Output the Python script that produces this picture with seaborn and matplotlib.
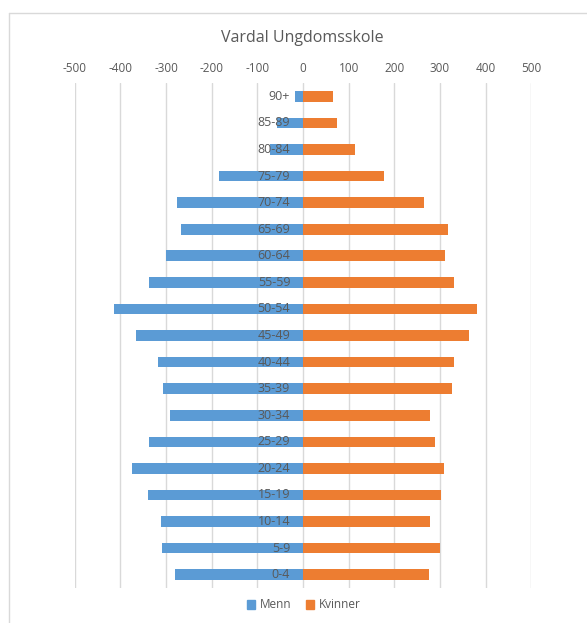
import pandas as pd
import matplotlib.pyplot as plt
import seaborn as sns
from matplotlib.patches import Rectangle

# age groups, top of the pyramid first
ages = ['90+', '85-89', '80-84', '75-79', '70-74', '65-69', '60-64', '55-59',
        '50-54', '45-49', '40-44', '35-39', '30-34', '25-29', '20-24',
        '15-19', '10-14', '5-9', '0-4']
menn = [-17, -56, -73, -183, -277, -267, -299, -337, -414, -366, -318,
        -306, -292, -338, -374, -340, -311, -309, -281]
kvinner = [66, 74, 113, 177, 266, 317, 312, 331, 382, 363, 331, 326,
           278, 288, 309, 303, 278, 301, 275]
xticks = [-500, -400, -300, -200, -100, 0, 100, 200, 300, 400, 500]

df = pd.DataFrame({
    'age': ages * 2,
    'value': menn + kvinner,
    'sex': ['Menn'] * len(ages) + ['Kvinner'] * len(ages),
})

sns.set_style('white')
plt.rcParams['font.family'] = ['Open Sans', 'DejaVu Sans']
plt.rcParams['axes.unicode_minus'] = False
grey = '#595959'

fig = plt.figure(figsize=(5.87, 6.23), dpi=100)
ax = fig.add_axes([74.7 / 587, 1 - 588 / 623, (531.3 - 74.7) / 587, (588 - 83) / 623])

sns.barplot(data=df, x='value', y='age', hue='sex', order=ages,
            palette={'Menn': '#5B9BD5', 'Kvinner': '#ED7D31'}, saturation=1,
            dodge=False, width=0.4, orient='h', ax=ax, legend=False,
            edgecolor='none')

ax.set_xlim(-500, 500)
ax.set_ylim(len(ages) - 0.5, -0.5)
ax.set_xticks(xticks)
ax.xaxis.tick_top()
ax.tick_params(axis='x', length=0, pad=6, labelsize=8.5, labelcolor=grey)
ax.grid(axis='x', color='#D9D9D9', linewidth=1)
ax.set_axisbelow(True)
for s in ax.spines.values():
    s.set_visible(False)
ax.set_xlabel('')
ax.set_ylabel('')
ax.set_yticks([])

# category labels sit next to the zero line
for i, a in enumerate(ages):
    ax.text(-28, i, a, ha='right', va='center', fontsize=9, color=grey)

fig.text(302 / 587, 1 - 38 / 623, 'Vardal Ungdomsskole', ha='center', va='center',
         fontsize=11.5, color=grey)

handles = [Rectangle((0, 0), 1, 1, color='#5B9BD5'), Rectangle((0, 0), 1, 1, color='#ED7D31')]
fig.legend(handles, ['Menn', 'Kvinner'], loc='center', bbox_to_anchor=(304 / 587, 1 - 605 / 623),
           ncol=2, frameon=False, fontsize=8.5, labelcolor=grey, handlelength=0.7,
           handleheight=0.7, handletextpad=0.4, columnspacing=1.2)

# chart frame
fig.add_artist(plt.Line2D([9 / 587, 9 / 587], [0, 1 - 13 / 623], transform=fig.transFigure,
                          color='#D9D9D9', linewidth=1))
fig.add_artist(plt.Line2D([9 / 587, 1], [1 - 13 / 623, 1 - 13 / 623], transform=fig.transFigure,
                          color='#D9D9D9', linewidth=1))

fig.savefig('out.png', dpi=100)
